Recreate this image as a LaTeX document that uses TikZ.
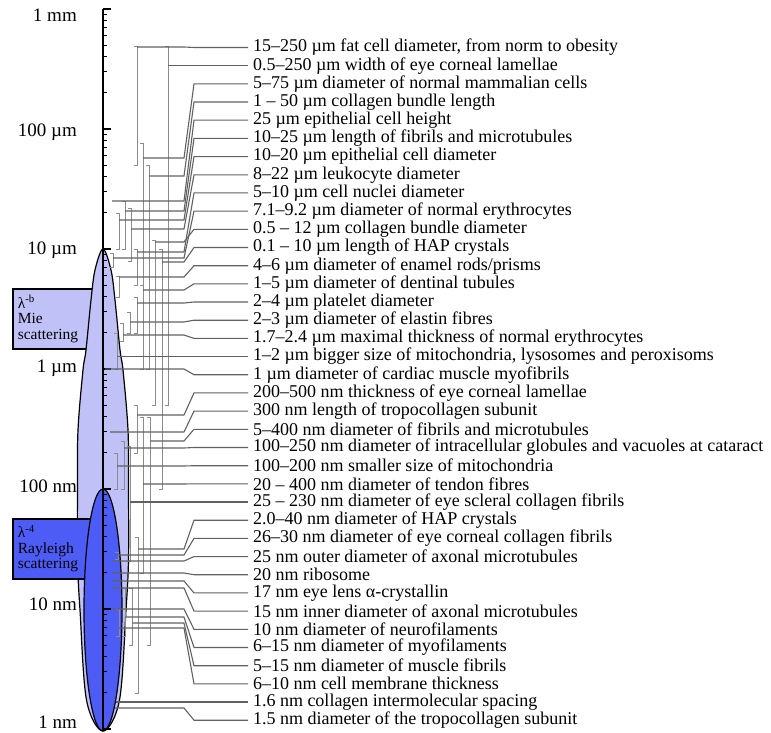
\documentclass[tikz,border=0pt]{standalone}
\usepackage{fontspec}
\setmainfont{Liberation Serif}
\usetikzlibrary{positioning}
\definecolor{mieblue}{RGB}{192,194,247}
\definecolor{rayblue}{RGB}{78,92,246}
\newcommand{\rng}[3]{\draw[brack] (#1-3,#2) -- (#1,#2) -- (#1,#3) -- (#1-3,#3);}

\begin{document}
\begin{tikzpicture}[x=1pt, y=-1pt,
    entry/.style={anchor=west, inner sep=0pt, outer sep=5pt, font=\fontsize{18}{18}\selectfont},
    decade/.style={anchor=east, inner sep=0pt, font=\fontsize{19}{20}\selectfont},
    scatbox/.style={draw, line width=1.6pt, anchor=north west, text width=70pt, minimum height=60pt, inner sep=5pt, align=left, font=\fontsize{15.5}{15.5}\selectfont},
    lead/.style={draw=black!62, line width=1.1pt},
    brack/.style={draw=black!45, line width=1pt},
    tick/.style={line width=1.2pt}
]
    \useasboundingbox (0,0) rectangle (771,733);

    % Scattering regions
    \node[scatbox, fill=mieblue] (mie) at (12,288) {λ\textsuperscript{-b}\\Mie\\scattering};
    \draw[line width=1.2pt, fill=mieblue] plot[smooth cycle, tension=0.55] coordinates {
        (103,249) (111,270) (115,300) (120,350) (123,370) (128,430) (128.5,490)
        (128.5,560) (126,610) (119.5,700) (103,731) (86.5,700) (80,610)
        (77.5,560) (77.5,490) (78,430) (83,370) (86,350) (91,300) (95,270)};
    \node[scatbox, fill=rayblue] (rayleigh) at (12,518) {λ\textsuperscript{-4}\\Rayleigh\\scattering};
    \draw[line width=1.2pt, fill=rayblue] (103,610) ellipse [x radius=19pt, y radius=121pt];

    % Scale
    \draw[line width=1.4pt] (103,9) -- (103,731);
    \foreach \d in {0,...,5} {
        \foreach \m in {2,...,9} {
            \draw[tick] (103,{9+120*\d+120*(1-log10(\m))}) -- ++(4,0);
        }
    }
    \foreach \d in {0,...,6} {
        \draw[tick] (103,{9+120*\d}) -- ++(8,0);
    }
    \node[decade] (mm1) at (77,15) {1 mm};
    \node[decade] (um100) at (77,132) {100 µm};
    \node[decade] (um10) at (77,250) {10 µm};
    \node[decade] (um1) at (77,368) {1 µm};
    \node[decade] (nm100) at (77,486) {100 nm};
    \node[decade] (nm10) at (77,604) {10 nm};
    \node[decade] (nm1) at (77,722) {1 nm};

    % Ranges
    \rng{137}{47}{165}
    \rng{168}{47}{405}
    \rng{143}{144}{285}
    \rng{149}{165}{369}
    \rng{125}{201}{249}
    \rng{119}{213}{249}
    \rng{131}{208}{261}
    \rng{137}{249}{285}
    \rng{113}{253}{267}
    \rng{155}{240}{405}
    \rng{162}{249}{489}
    \rng{119}{276}{297}
    \rng{143}{285}{369}
    \rng{137}{297}{333}
    \rng{130}{312}{333}
    \rng{123}{323}{341}
    \rng{117}{333}{369}
    \rng{137}{405}{453}
    \rng{150}{417}{645}
    \rng{124}{441}{489}
    \rng{117}{453}{489}
    \rng{143}{417}{573}
    \rng{130}{446}{561}
    \rng{138}{537}{693}
    \rng{118}{552}{559}
    \rng{125}{588}{636}
    \rng{132}{588}{645}
    \rng{119}{609}{636}

    % Attach points
    \coordinate (kink) at (184,0);
    \coordinate (b1) at (137,47);
    \coordinate (b2) at (168,65.7);
    \coordinate (b3) at (143,158);
    \coordinate (b4) at (149,176);
    \coordinate (b5) at (112,201);
    \coordinate (b6) at (125,211);
    \coordinate (b7) at (119,220);
    \coordinate (b8) at (131,229);
    \coordinate (b9) at (137,252);
    \coordinate (b10) at (113,258);
    \coordinate (b11) at (155,242);
    \coordinate (b12) at (162,262);
    \coordinate (b13) at (119,277);
    \coordinate (b14) at (143,290);
    \coordinate (b15) at (137,303);
    \coordinate (b16) at (130,322);
    \coordinate (b17) at (123,335);
    \coordinate (b18) at (117,356.6);
    \coordinate (b19) at (105,369);
    \coordinate (b20) at (137,415);
    \coordinate (b21) at (110,432);
    \coordinate (b22) at (150,441);
    \coordinate (b23) at (124,448);
    \coordinate (b24) at (117,466);
    \coordinate (b25) at (143,484);
    \coordinate (b26) at (130,502);
    \coordinate (b27) at (138,549);
    \coordinate (b28) at (118,555);
    \coordinate (b29) at (112,561);
    \coordinate (b30) at (112,573);
    \coordinate (b31) at (112,581);
    \coordinate (b32) at (112,588);
    \coordinate (b33) at (112,609);
    \coordinate (b34) at (125,617);
    \coordinate (b35) at (132,623);
    \coordinate (b36) at (119,628);
    \coordinate (b37) at (116,702);
    \coordinate (b38) at (115,708);

    % Entries
    \node[entry] (t1) at (248,47.5) {15–250 µm fat cell diameter, from norm to obesity};
    \node[entry] (t2) at (248,65.7) {0.5–250 µm width of eye corneal lamellae};
    \node[entry] (t3) at (248,83.9) {5–75 µm diameter of normal mammalian cells};
    \node[entry] (t4) at (248,102.0) {1 – 50 µm collagen bundle length};
    \node[entry] (t5) at (248,120.2) {25 µm epithelial cell height};
    \node[entry] (t6) at (248,138.4) {10–25 µm length of fibrils and microtubules};
    \node[entry] (t7) at (248,156.6) {10–20 µm epithelial cell diameter};
    \node[entry] (t8) at (248,174.8) {8–22 µm leukocyte diameter};
    \node[entry] (t9) at (248,192.9) {5–10 µm cell nuclei diameter};
    \node[entry] (t10) at (248,211.1) {7.1–9.2 µm diameter of normal erythrocytes};
    \node[entry] (t11) at (248,229.3) {0.5 – 12 µm collagen bundle diameter};
    \node[entry] (t12) at (248,247.5) {0.1 – 10 µm length of HAP crystals};
    \node[entry] (t13) at (248,265.7) {4–6 µm diameter of enamel rods/prisms};
    \node[entry] (t14) at (248,283.8) {1–5 µm diameter of dentinal tubules};
    \node[entry] (t15) at (248,302.0) {2–4 µm platelet diameter};
    \node[entry] (t16) at (248,320.2) {2–3 µm diameter of elastin fibres};
    \node[entry] (t17) at (248,338.4) {1.7–2.4 µm maximal thickness of normal erythrocytes};
    \node[entry] (t18) at (248,356.6) {1–2 µm bigger size of mitochondria, lysosomes and peroxisoms};
    \node[entry] (t19) at (248,374.7) {1 µm diameter of cardiac muscle myofibrils};
    \node[entry] (t20) at (248,392.9) {200–500 nm thickness of eye corneal lamellae};
    \node[entry] (t21) at (248,411.1) {300 nm length of tropocollagen subunit};
    \node[entry] (t22) at (248,429.3) {5–400 nm diameter of fibrils and microtubules};
    \node[entry] (t23) at (248,447.5) {100–250 nm diameter of intracellular globules and vacuoles at cataract};
    \node[entry] (t24) at (248,465.7) {100–200 nm smaller size of mitochondria};
    \node[entry] (t25) at (248,483.8) {20 – 400 nm diameter of tendon fibres};
    \node[entry] (t26) at (248,502.0) {25 – 230 nm diameter of eye scleral collagen fibrils};
    \node[entry] (t27) at (248,520.2) {2.0–40 nm diameter of HAP crystals};
    \node[entry] (t28) at (248,538.4) {26–30 nm diameter of eye corneal collagen fibrils};
    \node[entry] (t29) at (248,556.6) {25 nm outer diameter of axonal microtubules};
    \node[entry] (t30) at (248,574.7) {20 nm ribosome};
    \node[entry] (t31) at (248,592.9) {17 nm eye lens α-crystallin};
    \node[entry] (t32) at (248,611.1) {15 nm inner diameter of axonal microtubules};
    \node[entry] (t33) at (248,629.3) {10 nm diameter of neurofilaments};
    \node[entry] (t34) at (248,647.5) {6–15 nm diameter of myofilaments};
    \node[entry] (t35) at (248,665.7) {5–15 nm diameter of muscle fibrils};
    \node[entry] (t36) at (248,683.8) {6–10 nm cell membrane thickness};
    \node[entry] (t37) at (248,702.0) {1.6 nm collagen intermolecular spacing};
    \node[entry] (t38) at (248,720.2) {1.5 nm diameter of the tropocollagen subunit};

    % Leaders
    \foreach \i in {1,...,38} {
        \draw[lead] (t\i.west) -- ++(-54,0) -- (b\i -| kink) -- (b\i);
    }
\end{tikzpicture}
\end{document}
